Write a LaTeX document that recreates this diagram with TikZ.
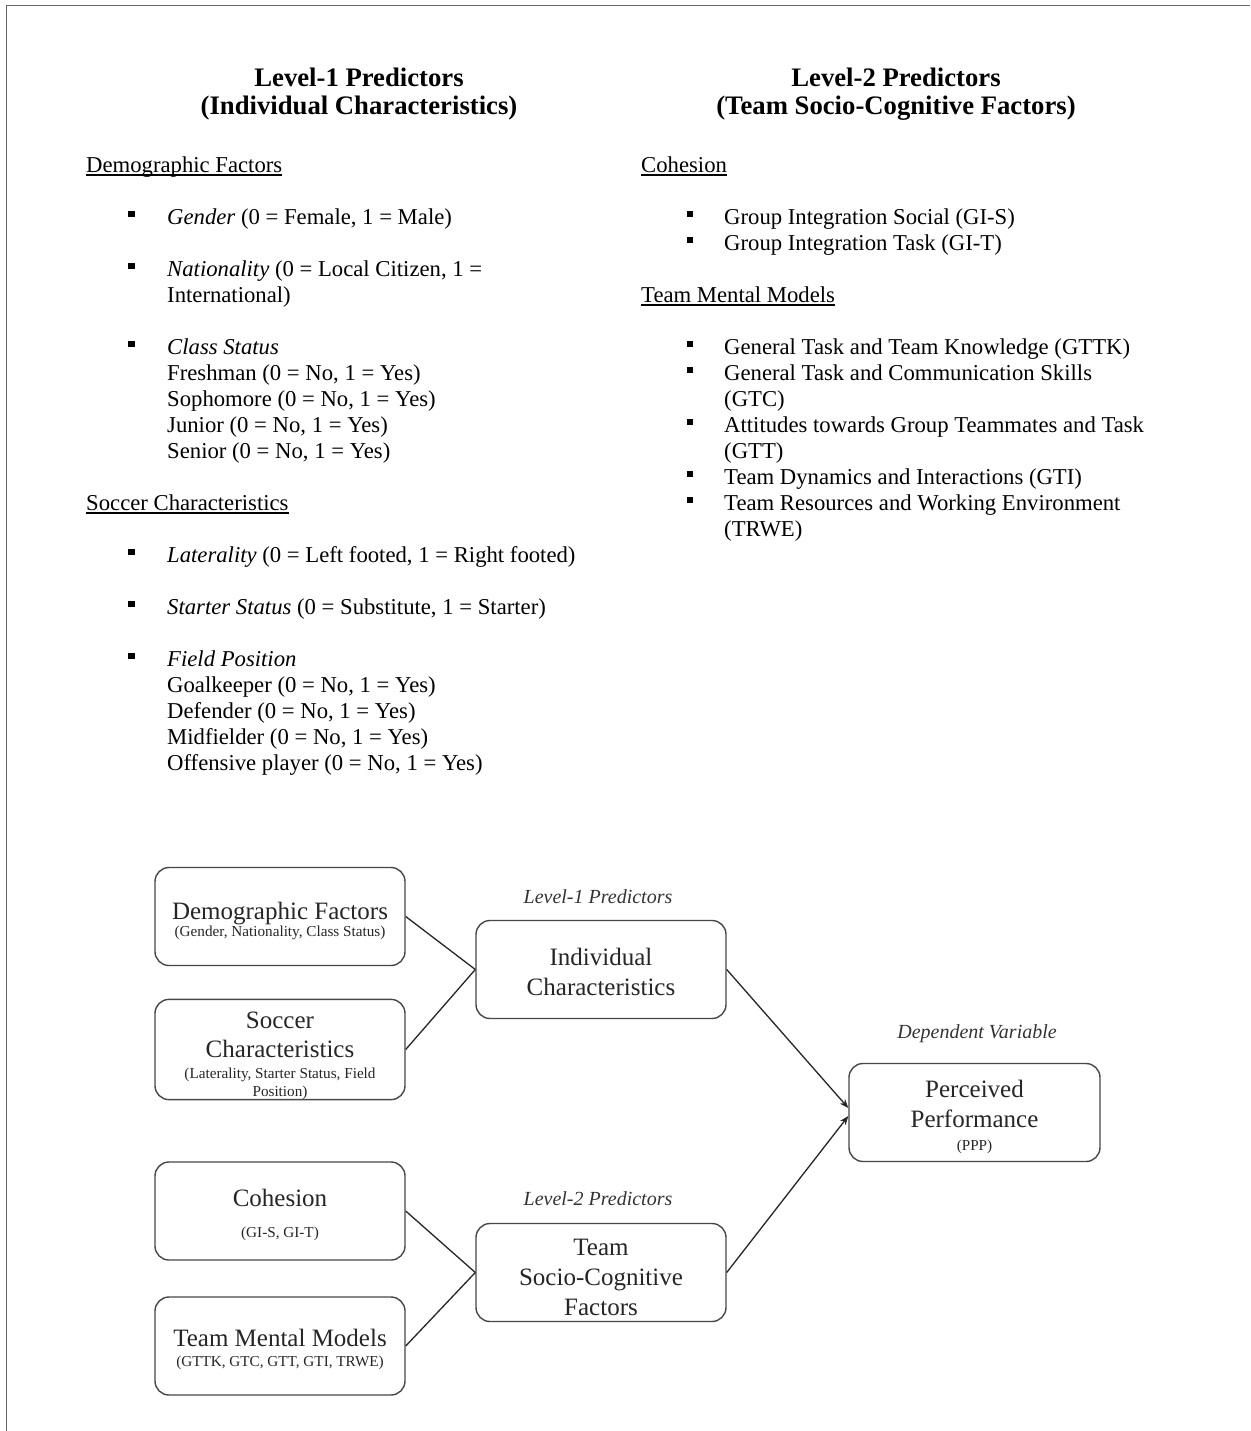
\documentclass[tikz,border=0pt]{standalone}
\usepackage{fontspec}
\setmainfont{Liberation Serif}
\usetikzlibrary{arrows.meta}
\newcommand{\subtx}{\fontsize{15.2}{18}\selectfont}
\newcommand{\boxpush}[1]{\rule{0pt}{#1pt}}
\begin{document}
\begin{tikzpicture}[x=1pt,y=-1pt,
  body/.style={anchor=base west, inner sep=0pt, font=\fontsize{22.7}{26}\selectfont},
  ttl/.style={anchor=base, inner sep=0pt, font=\fontsize{26.7}{30}\selectfont\bfseries},
  sq/.style={fill=black, inner sep=0pt, minimum size=6.5pt},
  ubox/.style={draw=black!72, line width=1.4pt, rounded corners=14pt, minimum width=250pt, minimum height=98pt, inner sep=0pt, align=center, text=black!85, font=\fontsize{25}{30}\selectfont},
  ital/.style={anchor=base, inner sep=0pt, text=black!80, font=\fontsize{20}{24}\selectfont\itshape},
  conn/.style={draw=black!85, line width=1.3pt},
  ul/.style={line width=1.2pt}
]
\useasboundingbox (0,0) rectangle (1250,1431);
\fill[white] (0,0) rectangle (1250,1431);
\draw[black!60, line width=1.8pt] (6.5,1431) -- (6.5,5.5) -- (1250,5.5);

% titles
\node[ttl] (t1a) at (359,86.7) {Level-1 Predictors};
\node[ttl] (t1b) at (359,114.5) {(Individual Characteristics)};
\node[ttl] (t2a) at (896,86.7) {Level-2 Predictors};
\node[ttl] (t2b) at (896,114.5) {(Team Socio-Cognitive Factors)};

% left column
\node[body] (hdem) at (86,172.5) {Demographic Factors};
\draw[ul] ([yshift=-2.5pt]hdem.base west) -- ([yshift=-2.5pt]hdem.base east);
\node[sq] (b1) at (131.5,214) {};
\node[body] (gen) at (167,224.5) {\textit{Gender} (0 = Female, 1 = Male)};
\node[sq] (b2) at (131.5,266) {};
\node[body] (nat) at (167,276.5) {\textit{Nationality} (0 = Local Citizen, 1 =};
\node[body] (nat2) at (167,302.5) {International)};
\node[sq] (b3) at (131.5,344) {};
\node[body] (cls) at (167,354.5) {\textit{Class Status}};
\node[body] (fr) at (167,380.5) {Freshman (0 = No, 1 = Yes)};
\node[body] (so) at (167,406.5) {Sophomore (0 = No, 1 = Yes)};
\node[body] (ju) at (167,432.5) {Junior (0 = No, 1 = Yes)};
\node[body] (se) at (167,458.5) {Senior (0 = No, 1 = Yes)};
\node[body] (hsoc) at (86,510.5) {Soccer Characteristics};
\draw[ul] ([yshift=-2.5pt]hsoc.base west) -- ([yshift=-2.5pt]hsoc.base east);
\node[sq] (b4) at (131.5,552) {};
\node[body] (lat) at (167,562.5) {\textit{Laterality} (0 = Left footed, 1 = Right footed)};
\node[sq] (b5) at (131.5,604) {};
\node[body] (sta) at (167,614.5) {\textit{Starter Status} (0 = Substitute, 1 = Starter)};
\node[sq] (b6) at (131.5,656) {};
\node[body] (fp) at (167,666.5) {\textit{Field Position}};
\node[body] (gk) at (167,692.5) {Goalkeeper (0 = No, 1 = Yes)};
\node[body] (df) at (167,718.5) {Defender (0 = No, 1 = Yes)};
\node[body] (md) at (167,744.5) {Midfielder (0 = No, 1 = Yes)};
\node[body] (of) at (167,770.5) {Offensive player (0 = No, 1 = Yes)};

% right column
\node[body] (hcoh) at (641,172.5) {Cohesion};
\draw[ul] ([yshift=-2.5pt]hcoh.base west) -- ([yshift=-2.5pt]hcoh.base east);
\node[sq] (b7) at (690,214) {};
\node[body] (gis) at (724,224.5) {Group Integration Social (GI-S)};
\node[sq] (b8) at (690,240) {};
\node[body] (git) at (724,250.5) {Group Integration Task (GI-T)};
\node[body] (htmm) at (641,302.5) {Team Mental Models};
\draw[ul] ([yshift=-2.5pt]htmm.base west) -- ([yshift=-2.5pt]htmm.base east);
\node[sq] (b9) at (690,344) {};
\node[body] (gttk) at (724,354.5) {General Task and Team Knowledge (GTTK)};
\node[sq] (b10) at (690,370) {};
\node[body] (gtc) at (724,380.5) {General Task and Communication Skills};
\node[body] (gtc2) at (724,406.5) {(GTC)};
\node[sq] (b11) at (690,422) {};
\node[body] (gtt) at (724,432.5) {Attitudes towards Group Teammates and Task};
\node[body] (gtt2) at (724,458.5) {(GTT)};
\node[sq] (b12) at (690,474) {};
\node[body] (gti) at (724,484.5) {Team Dynamics and Interactions (GTI)};
\node[sq] (b13) at (690,500) {};
\node[body] (trwe) at (724,510.5) {Team Resources and Working Environment};
\node[body] (trwe2) at (724,536.5) {(TRWE)};

% diagram
\node[ubox] (dem) at (280,916.5) {\boxpush{27}Demographic Factors\\[-13pt]{\subtx (Gender, Nationality, Class Status)}};
\node[ubox] (soc) at (280,1049.5) {\boxpush{29}Soccer\\[-1pt]Characteristics\\[-9pt]{\subtx (Laterality, Starter Status, Field}\\[-12pt]{\subtx Position)}};
\node[ubox] (ind) at (601,969.5) {\boxpush{23}Individual\\Characteristics};
\node[ubox] (coh) at (280,1211) {\boxpush{25}Cohesion\\[1pt]{\subtx (GI-S, GI-T)}};
\node[ubox] (tmm) at (280,1346) {\boxpush{25}Team Mental Models\\[-10pt]{\subtx (GTTK, GTC, GTT, GTI, TRWE)}};
\node[ubox] (tsc) at (601,1272.5) {\boxpush{26.5}Team\\Socio-Cognitive\\Factors};
\node[ubox, minimum width=251pt] (perc) at (974.5,1112.5) {\boxpush{27}Perceived\\Performance\\[-7pt]{\subtx (PPP)}};

\node[ital] (lab1) at (598,903.6) {Level-1 Predictors};
\node[ital] (lab2) at (598,1205) {Level-2 Predictors};
\node[ital] (lab3) at (977,1038.6) {Dependent Variable};

\coordinate (pin1) at ([yshift=4.5pt]perc.west);
\coordinate (pin2) at ([yshift=-3.5pt]perc.west);

\draw[conn] (dem.east) -- (ind.west);
\draw[conn] (soc.east) -- (ind.west);
\draw[conn] (coh.east) -- (tsc.west);
\draw[conn] (tmm.east) -- (tsc.west);
\draw[conn, -{Stealth[length=9pt,width=7pt]}] (ind.east) -- (pin1);
\draw[conn, -{Stealth[length=9pt,width=7pt]}] (tsc.east) -- (pin2);
\end{tikzpicture}
\end{document}
